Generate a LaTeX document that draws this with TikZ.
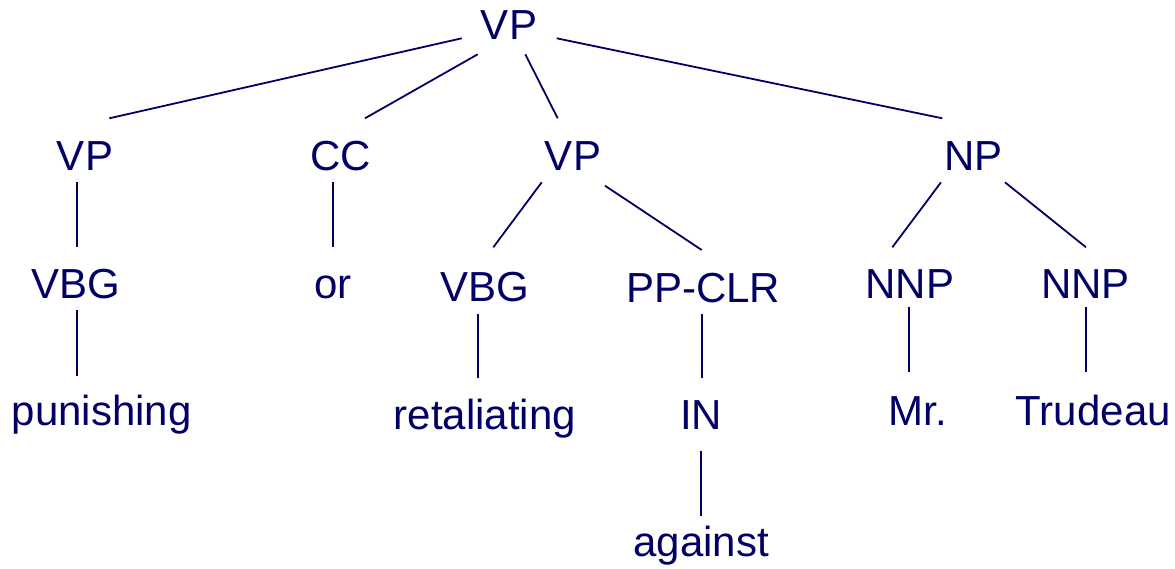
\documentclass[tikz,border=0pt]{standalone}
\usepackage{fontspec}
\setmainfont{Liberation Sans}
\usetikzlibrary{calc}
\definecolor{treeink}{RGB}{0,0,102}
\begin{document}
\begin{tikzpicture}[x=1pt,y=-1pt,
  lbl/.style={inner sep=0pt, anchor=base, text=treeink,
              font=\fontsize{42}{50}\selectfont},
  branch/.style={draw=treeink, line width=1.8pt}]
\useasboundingbox (0,0) rectangle (1175,568);

% labels, placed on their baselines
\node[lbl] (r)    at (509,39)      {VP};
\node[lbl] (vp1)  at (85,170)      {VP};
\node[lbl] (cc)   at (341,170)     {CC};
\node[lbl] (vp2)  at (573,170)     {VP};
\node[lbl] (np)   at (973.3,170)   {NP};
\node[lbl] (vbg1) at (76.2,298.3)  {VBG};
\node[lbl] (cor)  at (333.3,298.3) {or};
\node[lbl] (vbg2) at (485,301.7)   {VBG};
\node[lbl] (pp)   at (703.3,302.3) {PP-CLR};
\node[lbl] (nnp1) at (910,298.3)   {NNP};
\node[lbl] (nnp2) at (1085.5,298.3){NNP};
\node[lbl] (pun)  at (101.7,425)   {punishing};
\node[lbl] (ret)  at (485,429.3)   {retaliating};
\node[lbl] (nin)  at (701,429.3)   {IN};
\node[lbl] (mr)   at (918,425)     {Mr.};
\node[lbl] (tru)  at (1093.3,425)  {Trudeau};
\node[lbl] (ag)   at (701.3,556.7) {against};

% branches from each label to its children
\draw[branch] ($(r.base)+(-47.3,-0.7)$)  -- ($(vp1.base)+(24.3,-51.7)$);
\draw[branch] ($(r.base)+(-31.3,15.3)$)  -- ($(cc.base)+(24,-51.7)$);
\draw[branch] ($(r.base)+(16.3,15.3)$)   -- ($(vp2.base)+(-15.3,-51.7)$);
\draw[branch] ($(r.base)+(47.7,-0.7)$)   -- ($(np.base)+(-31,-51.7)$);

\draw[branch] ($(vp1.base)+(-7.7,12.3)$) -- ($(vbg1.base)+(1.1,-51)$);
\draw[branch] ($(cc.base)+(-8,12.3)$)    -- ($(cor.base)+(-0.3,-51)$);
\draw[branch] ($(vp2.base)+(-31.3,12.3)$) -- ($(vbg2.base)+(8.3,-54.4)$);
\draw[branch] ($(vp2.base)+(32,15.7)$)   -- ($(pp.base)+(-1.6,-52.3)$);
\draw[branch] ($(np.base)+(-32.3,12.3)$) -- ($(nnp1.base)+(-17.7,-51)$);
\draw[branch] ($(np.base)+(31.7,12.3)$)  -- ($(nnp2.base)+(0.5,-51)$);

\draw[branch] ($(vbg1.base)+(1.1,11.7)$) -- ($(pun.base)+(-24.4,-49.3)$);
\draw[branch] ($(vbg2.base)+(-7.3,12.3)$) -- ($(ret.base)+(-7.3,-51)$);
\draw[branch] ($(pp.base)+(-1.6,11.7)$)  -- ($(nin.base)+(0.7,-51)$);
\draw[branch] ($(nnp1.base)+(-0.7,8.4)$) -- ($(mr.base)+(-8.7,-53.3)$);
\draw[branch] ($(nnp2.base)+(0.2,8.4)$)  -- ($(tru.base)+(-7.6,-53.3)$);

\draw[branch] ($(nin.base)+(0.3,21.4)$)  -- ($(ag.base)+(0,-41)$);
\end{tikzpicture}
\end{document}
